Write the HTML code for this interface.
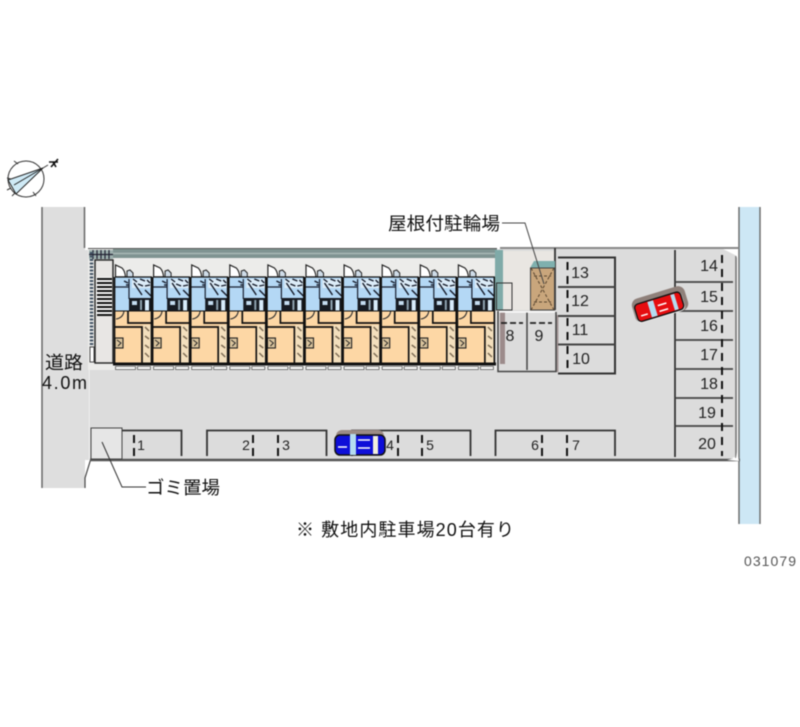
<!DOCTYPE html>
<html><head><meta charset="utf-8"><style>
html,body{margin:0;padding:0;background:#fff}
svg{display:block;filter:blur(.4px)}
text{font-family:"Liberation Sans","Noto Sans CJK JP",sans-serif;fill:#111}
.n{font-size:16px;fill:#222;text-anchor:middle}
.s{font-size:14px;fill:#222;text-anchor:middle}
.j{font-size:18px;fill:#111}
</style></head><body>
<svg width="800" height="727" viewBox="0 0 800 727" xmlns="http://www.w3.org/2000/svg">
<defs>
<g id="unit">
  <path d="M0.5 12V0L7 3Q10 6 10.5 12Z" fill="#fff" stroke="#222" stroke-width="1.2"/>
  <path d="M12 12V6L15 5 18 8V12Z" fill="#cfdce8" stroke="#222" stroke-width="1"/>
  <rect x="0" y="12" width="37" height="34" fill="#b4d8f5"/>
  <path d="M0 12H37" stroke="#111" stroke-width="1.2"/>
  <path d="M0 22H14V14M14 22V34" fill="none" stroke="#1a2030" stroke-width="1.2"/>
  <path d="M9 16l4 2M11 20h3" stroke="#1a2030" stroke-width="1.5"/>
  <rect x="17" y="14" width="19" height="9" fill="#dcecf8"/>
  <path d="M18 14l4 3M25 14l5 2M32 15l3 3M23 19l5 2M30 21l5-1M19 18l8 12M30 25l6 6" stroke="#151a28" stroke-width="1.4" fill="none"/>
  <rect x="14" y="33" width="23" height="13" fill="#171b22"/>
  <rect x="17" y="36" width="5" height="4" fill="#c4dcf0"/>
  <rect x="25" y="35" width="2" height="10" fill="#8fa3b0"/>
  <rect x="30" y="35" width="4" height="11" fill="#d8ecfb"/>
  <rect x="0" y="46" width="37" height="52" fill="#fdd7a5"/>
  <path d="M13 46V58H37" fill="none" stroke="#111" stroke-width="1.7"/>
  <path d="M0 62H27V98" fill="none" stroke="#111" stroke-width="1.7"/>
  <path d="M1 54Q8 53 9 46" fill="none" stroke="#333" stroke-width="1.1"/>
  <rect x="28" y="60" width="8" height="38" fill="#f3dfbd"/>
  <path d="M30 62l4 4M30 71l4 3M30 80l4 3M30 88l4 4" stroke="#7d6c55" stroke-width="1.5"/>
  <path d="M36.5 12V98" stroke="#111" stroke-width="1.7"/>
  <path d="M0 46H37" stroke="#111" stroke-width="1"/>
  <rect x="0" y="73" width="8" height="10" fill="#d9c39c" stroke="#222" stroke-width="1.1"/>
  <path d="M2 75l4 3-3 3" fill="none" stroke="#222" stroke-width=".9"/>
  <rect x="0.5" y="101.5" width="20" height="3" fill="#fff" stroke="#444" stroke-width=".7"/>
  <rect x="22.5" y="101.5" width="13" height="3" fill="#fff" stroke="#444" stroke-width=".7"/>
  <path d="M-.5 12V98" stroke="#111" stroke-width="1.7"/>
</g>
</defs>

<!-- road -->
<rect x="42" y="207" width="43" height="281" fill="#dedede"/>
<rect x="85" y="250" width="4" height="210" fill="#dedede"/>
<path d="M42 207V488" stroke="#666" stroke-width="1.5"/>
<path d="M84.5 207V248" stroke="#666" stroke-width="1.5"/>
<path d="M90.5 250V460L85 478V488" fill="none" stroke="#444" stroke-width="1.2"/>

<!-- river -->
<rect x="739" y="207" width="21" height="317" fill="#cde7f5"/>
<path d="M739 207V524M760 207V524" stroke="#666" stroke-width="1.4"/>

<!-- site -->
<path d="M90 249H723L737 256V456L728 460H90Z" fill="#dcdcdc"/>
<path d="M500 248H739" stroke="#888" stroke-width="2"/>
<path d="M90 460H740" stroke="#555" stroke-width="2.4"/>
<path d="M736 256V458" stroke="#777" stroke-width="1.6"/>
<path d="M725 249L735 252 737 258V249Z" fill="#fff"/>
<path d="M727 460L736 458 737 452 739 461Z" fill="#fff"/>

<!-- building backdrop -->
<rect x="88" y="249" width="410" height="121" fill="#ececea"/>
<rect x="113" y="249" width="384" height="9" fill="#7f9491"/>
<path d="M113 253.5H497" stroke="#a9b8b5" stroke-width="1.6"/>
<path d="M88 248.5H497" stroke="#555" stroke-width="1"/>
<rect x="89" y="250" width="24" height="9" fill="#9db0ae"/>
<path d="M93 250v9M97 250v9M101 250v9M105 250v9M109 250v9M89 254.5h24" stroke="#223" stroke-width="1.2"/>

<!-- stair block -->
<rect x="95" y="260" width="18" height="103" fill="#e8e6e4" stroke="#222" stroke-width="1.4"/>
<rect x="96" y="277" width="16" height="39" fill="#f6f6f6"/>
<path d="M97 279h15M97 283h15M97 287h15M97 291h15M97 295h15M97 299h15M97 303h15M97 307h15M97 311h15M97 315h15" stroke="#111" stroke-width="2"/>
<path d="M91.5 252V347" stroke="#456" stroke-width="3.5" stroke-dasharray="2 1.5"/>
<rect x="90" y="347" width="4" height="15" fill="#fff" stroke="#222" stroke-width=".8"/>

<!-- units -->
<use href="#unit" x="115" y="265"/>
<use href="#unit" x="153.1" y="265"/>
<use href="#unit" x="191.2" y="265"/>
<use href="#unit" x="229.3" y="265"/>
<use href="#unit" x="267.4" y="265"/>
<use href="#unit" x="305.5" y="265"/>
<use href="#unit" x="343.6" y="265"/>
<use href="#unit" x="381.7" y="265"/>
<use href="#unit" x="419.8" y="265"/>
<use href="#unit" x="457.9" y="265"/>
<path d="M113 364H496" stroke="#111" stroke-width="3"/>

<!-- right of building -->
<rect x="497" y="251" width="57" height="59" fill="#e9e6e2"/>
<rect x="495" y="250" width="8" height="60" fill="#7faaa8"/>
<rect x="496.5" y="283" width="15.5" height="27" fill="none" stroke="#333" stroke-width="1"/>
<path d="M555 248V310" stroke="#333" stroke-width="1.8"/>
<path d="M530 268L534 261H555V268Z" fill="#7fb0ae"/>
<rect x="530.5" y="268" width="24" height="42" fill="#c9a67c" stroke="#444"/>
<path d="M531 268L554 310M554 268L531 310M534 276H551M534 302H551" stroke="#5a4630" stroke-width="1" stroke-dasharray="3 2"/>

<!-- 8 / 9 -->
<rect x="497" y="312" width="58" height="58" fill="#dcdcdc"/>
<rect x="500" y="312" width="5" height="52" fill="#9c8b8b"/>
<rect x="555.5" y="315" width="3" height="57" fill="#a99b9b"/>
<path d="M498 311V371.5H556V312M527 312V370" fill="none" stroke="#444" stroke-width="1.5"/>
<path d="M499 312H555" stroke="#fff" stroke-width="1.2"/>
<path d="M501 323h22M530 323h22" stroke="#222" stroke-width="1.8" stroke-dasharray="6 3"/>
<text class="n" x="510" y="341">8</text>
<text class="n" x="539" y="341">9</text>

<!-- 10-13 -->
<path d="M558 257.5H615V373.5H558" fill="none" stroke="#333" stroke-width="2"/>
<path d="M558 287H615M558 316H615M558 344.5H615" stroke="#444" stroke-width="2"/>
<path d="M567.5 262V370" stroke="#111" stroke-width="2" stroke-dasharray="8 6"/>
<text class="n" x="580" y="278">13</text>
<text class="n" x="580" y="306">12</text>
<text class="n" x="580" y="335">11</text>
<text class="n" x="581" y="364">10</text>

<!-- 14-20 -->
<path d="M675 250V457" stroke="#222" stroke-width="1.6"/>
<path d="M675 282H733M675 311H733M675 340H733M675 369H733M675 398H733M675 426H733" stroke="#444" stroke-width="1.8"/>
<path d="M722 255V456" stroke="#111" stroke-width="2" stroke-dasharray="8 6"/>
<text class="n" x="709" y="271">14</text>
<text class="n" x="709" y="302">15</text>
<text class="n" x="709" y="331">16</text>
<text class="n" x="709" y="360">17</text>
<text class="n" x="709" y="389">18</text>
<text class="n" x="707" y="418">19</text>
<text class="n" x="707" y="449">20</text>

<!-- red car (drawn over the bay line, halo on top) -->
<g transform="translate(660 306) rotate(-17)">
  <rect x="-27" y="-14" width="55" height="25" rx="7" fill="#8f807a"/>
  <rect x="-26" y="-9" width="50" height="20" rx="5" fill="#fff"/>
  <rect x="-25" y="-8.5" width="48" height="18" rx="4" fill="#e60d10" stroke="#111" stroke-width="1.4"/>
  <rect x="-11" y="-7.5" width="6" height="16" fill="#b5dcf0"/>
  <rect x="13" y="-7.5" width="4" height="16" fill="#b5dcf0"/>
  <path d="M-21 4h7M-2 -1h9M-2 5h9" stroke="#fff" stroke-width="1.5"/>
</g>

<!-- bottom spots -->
<rect x="91" y="428" width="31" height="31" fill="#e6e6e6" stroke="#444" stroke-width="1"/>
<path d="M122 430.5H181.5V456M207 456V430.5H326.5V456M352 456V430.5H470.5V456M495.5 456V430.5H615V456" fill="none" stroke="#333" stroke-width="1.8"/>
<path d="M134 435v22M253 435v22M278 435v22M398 435v22M422 435v22M542 435v22M567 435v22" stroke="#111" stroke-width="2" stroke-dasharray="8 5"/>
<text class="s" x="141" y="450">1</text>
<text class="s" x="246" y="450">2</text>
<text class="s" x="286" y="450">3</text>
<text class="s" x="390" y="450">4</text>
<text class="s" x="430" y="450">5</text>
<text class="s" x="535" y="450">6</text>
<text class="s" x="576" y="450">7</text>

<!-- blue car -->
<rect x="336" y="430" width="48" height="14" rx="6" fill="#9c8b85"/>
<rect x="335" y="435" width="50" height="20" rx="5" fill="#0e0ed8" stroke="#111" stroke-width="1.5"/>
<rect x="350" y="434" width="6" height="21" fill="#b5dcf0"/>
<rect x="373" y="436" width="5" height="18" fill="#f2efdc"/>
<path d="M338 447h9M358 440h12M358 448h12" stroke="#fff" stroke-width="1.5"/>

<!-- leaders -->
<path d="M502 223H525L544 284" fill="none" stroke="#444" stroke-width="1"/>
<path d="M102 442L122 487H146" fill="none" stroke="#333" stroke-width="1"/>

<!-- labels -->
<text class="j" x="388" y="230" textLength="112" lengthAdjust="spacingAndGlyphs">屋根付駐輪場</text>
<text class="j" x="45" y="369" textLength="38" lengthAdjust="spacingAndGlyphs">道路</text>
<text class="j" x="42" y="389" textLength="45">4.0m</text>
<text class="j" x="146" y="494" textLength="74" lengthAdjust="spacingAndGlyphs">ゴミ置場</text>
<text class="j" x="296" y="536" textLength="218">※ 敷地内駐車場20台有り</text>
<text x="744" y="566" style="font-size:14px;fill:#555" textLength="52">031079</text>

<!-- compass -->
<circle cx="26" cy="179" r="18" fill="#fff" stroke="#333" stroke-width="1"/>
<path d="M43 168L8 180L16 194Z" fill="#cfeaf6" stroke="#222" stroke-width="1"/>
<path d="M43 168L14 185" stroke="#222" stroke-width="1"/>
<path d="M43 168L48 165M14 161l4 3M7 178l4 1M7 190l4-2M33 192l3 4M15 193l-3 3" stroke="#333" stroke-width="1"/>
<path d="M49 162L58 162M53 162L56 167M58 159L51 167" stroke="#111" stroke-width="1.6" fill="none"/>
</svg>
</body></html>
